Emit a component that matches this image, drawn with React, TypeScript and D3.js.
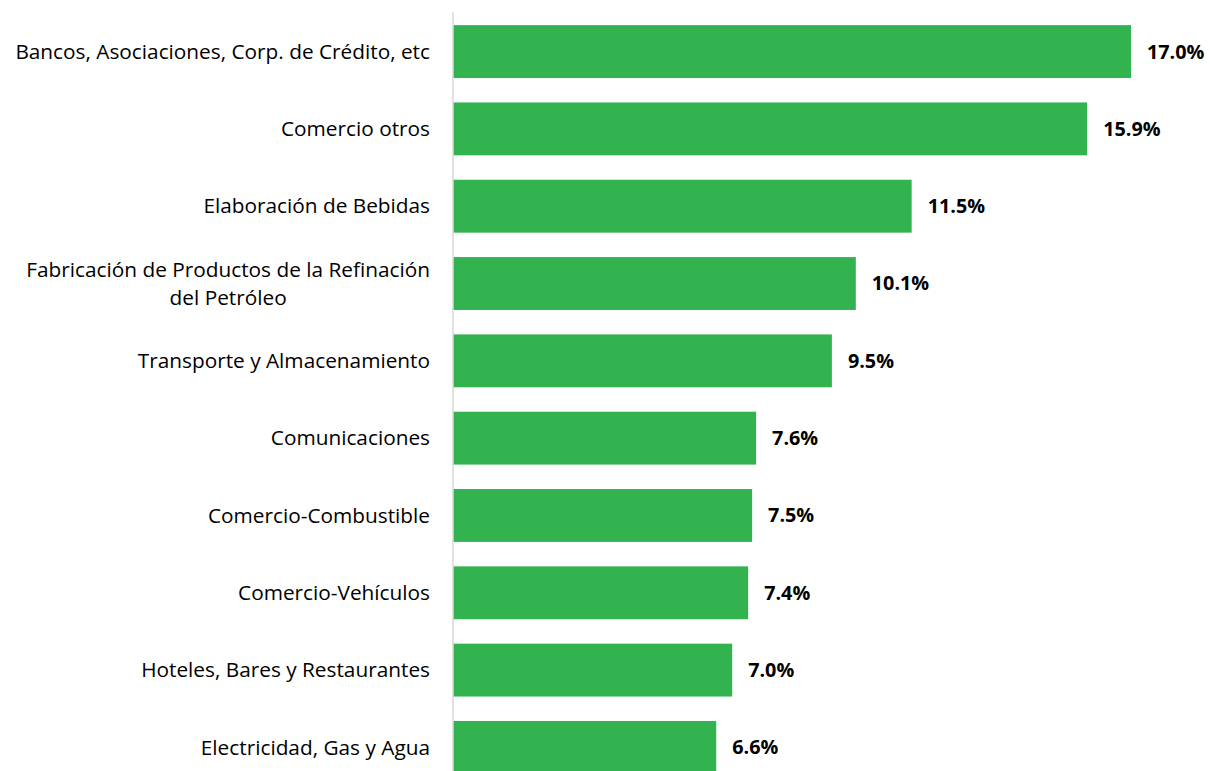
import React, { useEffect, useRef } from "react";
import * as d3 from "d3";

const categories: string[][] = [
  ["Bancos, Asociaciones, Corp. de Crédito, etc"],
  ["Comercio otros"],
  ["Elaboración de Bebidas"],
  ["Fabricación de Productos de la Refinación", "del Petróleo"],
  ["Transporte y Almacenamiento"],
  ["Comunicaciones"],
  ["Comercio-Combustible"],
  ["Comercio-Vehículos"],
  ["Hoteles, Bares y Restaurantes"],
  ["Electricidad, Gas y Agua"],
];
const values: number[] = [17.0, 15.9, 11.5, 10.1, 9.5, 7.6, 7.5, 7.4, 7.0, 6.6];

const W = 1210;
const H = 790;
const FONT = "'Open Sans', sans-serif";
const GREEN = "#33B34F";
const LABEL_SIZE = 20.8;
const VALUE_SIZE = 19.8;

export default function App() {
  const ref = useRef<SVGSVGElement>(null);
  useEffect(() => {
    const svg = d3.select(ref.current);
    svg.selectAll("*").remove();
    const x0 = 453;
    const x = d3.scaleLinear().domain([0, 17]).range([x0, 1131]);
    const idx = values.map((_, i) => String(i));
    const y = d3.scaleBand().domain(idx).range([12, 787]).paddingInner(0.316).paddingOuter(0.17);

    const g = svg.append("g");
    g.selectAll("rect.bar")
      .data(values)
      .join("rect")
      .attr("class", "bar")
      .attr("x", x(0))
      .attr("y", (_, i) => y(String(i))!)
      .attr("width", (d) => x(d) - x(0))
      .attr("height", y.bandwidth())
      .attr("fill", GREEN);

    g.append("line")
      .attr("x1", x0)
      .attr("x2", x0)
      .attr("y1", 12)
      .attr("y2", H)
      .attr("stroke", "#d9d9d9")
      .attr("stroke-width", 1.5);

    g.selectAll("text.val")
      .data(values)
      .join("text")
      .attr("class", "val")
      .attr("x", (d) => x(d) + 16)
      .attr("y", (_, i) => y(String(i))! + y.bandwidth() / 2)
      .attr("dy", "0.35em")
      .attr("font-family", FONT)
      .attr("font-size", VALUE_SIZE)
      .attr("font-weight", "bold")
      .attr("fill", "#000")
      .text((d) => d.toFixed(1) + "%");

    const labelRight = 430;
    categories.forEach((lines, i) => {
      const cy = y(String(i))! + y.bandwidth() / 2;
      const lh = 28;
      const t = g
        .append("text")
        .attr("font-family", FONT)
        .attr("font-size", LABEL_SIZE)
        .attr("fill", "#000");
      if (lines.length === 1) {
        t.attr("x", labelRight).attr("y", cy).attr("dy", "0.35em").attr("text-anchor", "end").text(lines[0]);
      } else {
        const tmp = g.append("text").attr("font-family", FONT).attr("font-size", LABEL_SIZE).text(lines[0]);
        const w = (tmp.node() as SVGTextElement).getComputedTextLength();
        tmp.remove();
        const cx = labelRight - w / 2;
        t.attr("text-anchor", "middle");
        lines.forEach((ln, j) => {
          t.append("tspan")
            .attr("x", cx)
            .attr("y", cy + (j - (lines.length - 1) / 2) * lh)
            .attr("dy", "0.35em")
            .text(ln);
        });
      }
    });
  }, []);
  return (
    <svg
      ref={ref}
      width={W}
      height={H}
      style={{ position: "absolute", left: 0, top: 0, background: "#fff" }}
    />
  );
}
